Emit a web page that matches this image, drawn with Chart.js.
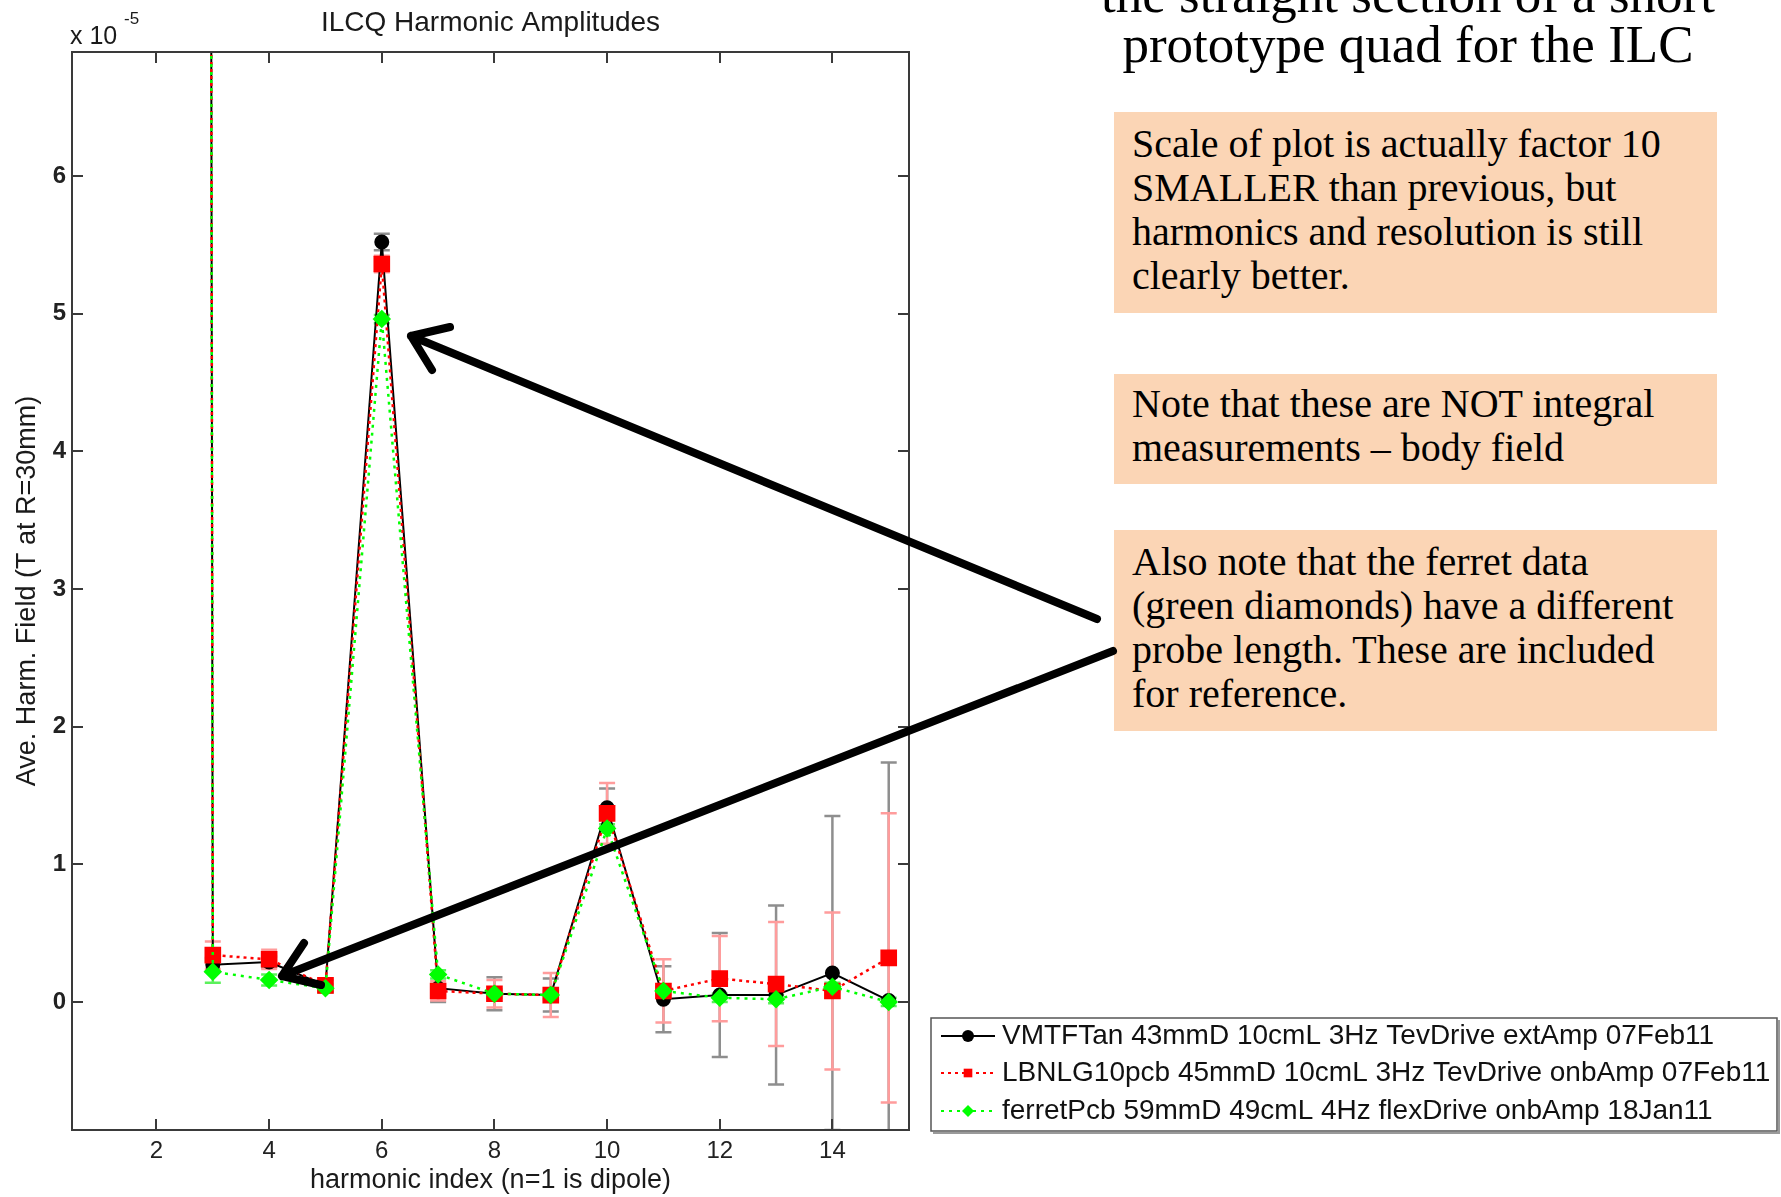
<!DOCTYPE html>
<html>
<head>
<meta charset="utf-8">
<script src="https://cdn.jsdelivr.net/npm/chart.js@4/dist/chart.umd.min.js"></script>
<style>
  body { margin: 0; background: #fff; }
  #page { position: relative; width: 1781px; height: 1197px; overflow: hidden; background: #fff; }
  #chart { position: absolute; left: 0; top: 0; }
  .serif { font-family: "Liberation Serif", "Times New Roman", serif; color: #000; }
  .heading { position: absolute; left: 1008px; top: -31px; width: 800px; text-align: center; font-size: 53px; line-height: 50px; white-space: nowrap; }
  .note { position: absolute; left: 1114px; width: 603px; background: #fbd5b5; font-size: 40px; line-height: 44px; padding-left: 18px; box-sizing: border-box; white-space: nowrap; }
  #arrows { position: absolute; left: 0; top: 0; }
</style>
</head>
<body>
<div id="page">
  <canvas id="chart" width="1781" height="1197"></canvas>
  <div class="heading serif">the straight section of a short<br>prototype quad for the ILC</div>
  <div class="note serif" style="top:112px;height:201px;padding-top:10px">Scale of plot is actually factor 10<br>SMALLER than previous, but<br>harmonics and resolution is still<br>clearly better.</div>
  <div class="note serif" style="top:374px;height:110px;padding-top:8px">Note that these are NOT integral<br>measurements – body field</div>
  <div class="note serif" style="top:530px;height:201px;padding-top:10px">Also note that the ferret data<br>(green diamonds) have a different<br>probe length. These are included<br>for reference.</div>
  <svg id="arrows" width="1781" height="1197">
    <g fill="none" stroke="#000" stroke-width="8" stroke-linecap="round" stroke-linejoin="round">
      <path d="M1097 619 L411 336 M450 327 L411 336 L432 370"/>
      <path d="M1113 651 L282 976 M304 943 L282 976 L321 985"/>
    </g>
  </svg>
</div>
<script>
// harmonic index n; n=2 is the main quadrupole field, far above the axes
const harmonics = [2, 3, 4, 5, 6, 7, 8, 9, 10, 11, 12, 13, 14, 15];

// average harmonic field, units of 1e-5 T at R = 30 mm, with +/- error
const vmtfField   = [1420, 0.27, 0.29, 0.12, 5.52, 0.10, 0.06, 0.05, 1.41, 0.02, 0.05, 0.05, 0.21, 0.01];
const vmtfErr     = [0,    0.05, 0.04, 0.04, 0.06, 0.10, 0.12, 0.12, 0.14, 0.24, 0.45, 0.65, 1.14, 1.73];
const lbnlField   = [1400, 0.34, 0.31, 0.12, 5.36, 0.08, 0.06, 0.05, 1.37, 0.08, 0.17, 0.13, 0.08, 0.32];
const lbnlErr     = [0,    0.10, 0.07, 0.05, 0.06, 0.07, 0.10, 0.16, 0.22, 0.23, 0.31, 0.45, 0.57, 1.05];
const ferretField = [1380, 0.22, 0.16, 0.10, 4.96, 0.20, 0.06, 0.05, 1.26, 0.08, 0.03, 0.02, 0.11, 0.00];
const ferretErr   = [0,    0.08, 0.04, 0.03, 0.03, 0.03, 0.03, 0.03, 0.03, 0.03, 0.03, 0.03, 0.03, 0.03];

const seriesLabels = [
  "VMTFTan 43mmD 10cmL 3Hz TevDrive extAmp 07Feb11",
  "LBNLG10pcb 45mmD 10cmL 3Hz TevDrive onbAmp 07Feb11",
  "ferretPcb 59mmD 49cmL 4Hz flexDrive onbAmp 18Jan11"
];

const xTicks = [2, 4, 6, 8, 10, 12, 14];
const yTicks = [0, 1, 2, 3, 4, 5, 6];

const toPoints = (vals) => harmonics.map((n, i) => ({ x: n, y: vals[i] }));

const sans = "'Liberation Sans', Arial, sans-serif";
const labelFont = { family: sans, size: 27 };

// vertical error bars with caps, under the lines
const errorBars = {
  id: "errorBars",
  beforeDatasetsDraw(chart) {
    const { ctx, chartArea: a, scales: { x, y } } = chart;
    ctx.save();
    ctx.beginPath();
    ctx.rect(a.left, a.top, a.width, a.height);
    ctx.clip();
    ctx.lineWidth = 2.5;
    chart.data.datasets.forEach(ds => {
      ctx.strokeStyle = ds.errorColor;
      ds.data.forEach((p, i) => {
        const e = ds.errors[i];
        if (!e) return;
        const px = x.getPixelForValue(p.x);
        const hi = y.getPixelForValue(p.y + e);
        const lo = y.getPixelForValue(p.y - e);
        ctx.beginPath();
        ctx.moveTo(px, hi); ctx.lineTo(px, lo);
        ctx.moveTo(px - 8, hi); ctx.lineTo(px + 8, hi);
        ctx.moveTo(px - 8, lo); ctx.lineTo(px + 8, lo);
        ctx.stroke();
      });
    });
    ctx.restore();
  }
};

// box round the axes with inward ticks on all four sides
const axesBox = {
  id: "axesBox",
  afterDatasetsDraw(chart) {
    const { ctx, chartArea: a, scales: { x, y } } = chart;
    ctx.save();
    ctx.strokeStyle = "#3a3a3a";
    ctx.lineWidth = 2;
    ctx.strokeRect(a.left, a.top, a.width, a.height);
    ctx.beginPath();
    xTicks.forEach(v => {
      const px = Math.round(x.getPixelForValue(v));
      ctx.moveTo(px, a.bottom); ctx.lineTo(px, a.bottom - 11);
      ctx.moveTo(px, a.top); ctx.lineTo(px, a.top + 11);
    });
    yTicks.forEach(v => {
      const py = Math.round(y.getPixelForValue(v));
      ctx.moveTo(a.left, py); ctx.lineTo(a.left + 11, py);
      ctx.moveTo(a.right, py); ctx.lineTo(a.right - 11, py);
    });
    ctx.stroke();
    ctx.restore();
  }
};

function drawMarker(ctx, style, cx, cy, r) {
  ctx.beginPath();
  if (style === "circle") {
    ctx.arc(cx, cy, r, 0, Math.PI * 2);
  } else if (style === "rect") {
    ctx.rect(cx - r * 0.72, cy - r * 0.72, r * 1.44, r * 1.44);
  } else {
    ctx.moveTo(cx - r, cy); ctx.lineTo(cx, cy - r); ctx.lineTo(cx + r, cy); ctx.lineTo(cx, cy + r);
    ctx.closePath();
  }
  ctx.fill();
}

// title, exponent note and the legend box outside the axes
const decorations = {
  id: "decorations",
  afterDraw(chart) {
    const { ctx, chartArea: a } = chart;
    ctx.save();
    ctx.fillStyle = "#1a1a1a";
    ctx.font = `28px ${sans}`;
    ctx.textAlign = "center";
    ctx.textBaseline = "middle";
    ctx.fillText("ILCQ Harmonic Amplitudes", (a.left + a.right) / 2, 23);

    ctx.textAlign = "left";
    ctx.textBaseline = "alphabetic";
    ctx.font = `25px ${sans}`;
    ctx.fillText("x 10", 70, 44);
    ctx.font = `17px ${sans}`;
    ctx.fillText("-5", 124, 24);

    // legend
    const box = { left: 931, top: 1018, width: 846, height: 113 };
    ctx.fillStyle = "#fff";
    ctx.fillRect(box.left, box.top, box.width, box.height);
    ctx.strokeStyle = "#9a9a9a";
    ctx.lineWidth = 2;
    ctx.beginPath();
    ctx.moveTo(box.left + 2, box.top + box.height + 2);
    ctx.lineTo(box.left + box.width + 2, box.top + box.height + 2);
    ctx.lineTo(box.left + box.width + 2, box.top + 2);
    ctx.stroke();
    ctx.strokeStyle = "#555";
    ctx.lineWidth = 1.5;
    ctx.strokeRect(box.left, box.top, box.width, box.height);

    const rows = [1036, 1073, 1111];
    chart.data.datasets.forEach((ds, i) => {
      const yy = rows[i];
      ctx.strokeStyle = ds.borderColor;
      ctx.fillStyle = ds.backgroundColor;
      ctx.lineWidth = 2;
      ctx.setLineDash(ds.borderDash || []);
      ctx.beginPath();
      ctx.moveTo(941, yy); ctx.lineTo(995, yy);
      ctx.stroke();
      ctx.setLineDash([]);
      drawMarker(ctx, ds.pointStyle, 968, yy, 6);
      ctx.fillStyle = "#111";
      ctx.font = `28px ${sans}`;
      ctx.textBaseline = "middle";
      ctx.fillText(ds.label, 1002, yy);
    });
    ctx.restore();
  }
};

new Chart(document.getElementById("chart"), {
  type: "line",
  data: {
    datasets: [
      {
        label: seriesLabels[0],
        data: toPoints(vmtfField),
        errors: vmtfErr,
        errorColor: "#8e8e8e",
        borderColor: "#000",
        backgroundColor: "#000",
        borderWidth: 2,
        pointStyle: "circle",
        pointRadius: 6.5,
        order: 2
      },
      {
        label: seriesLabels[1],
        data: toPoints(lbnlField),
        errors: lbnlErr,
        errorColor: "#ff9c9c",
        borderColor: "#ff0000",
        backgroundColor: "#ff0000",
        borderWidth: 2.5,
        borderDash: [3, 4],
        pointStyle: "rect",
        pointRadius: 10,
        order: 1
      },
      {
        label: seriesLabels[2],
        data: toPoints(ferretField),
        errors: ferretErr,
        errorColor: "#5cf05c",
        borderColor: "#00ff00",
        backgroundColor: "#00ff00",
        borderWidth: 2.5,
        borderDash: [3, 5],
        pointStyle: "rectRot",
        pointRadius: 7.5,
        order: 0
      }
    ]
  },
  options: {
    responsive: false,
    animation: false,
    events: [],
    layout: { padding: { left: 0, top: 52, right: 872, bottom: 0 } },
    elements: { line: { tension: 0 }, point: { borderWidth: 1 } },
    plugins: { legend: { display: false }, tooltip: { enabled: false }, title: { display: false } },
    scales: {
      x: {
        type: "linear",
        min: 0.5,
        max: 15.36,
        grid: { display: false, drawTicks: false },
        border: { display: false },
        ticks: {
          stepSize: 2,
          includeBounds: false,
          autoSkip: false,
          maxRotation: 0,
          padding: 7,
          color: "#222",
          font: { family: sans, size: 24 },
          callback: v => (xTicks.includes(v) ? String(v) : "")
        },
        title: {
          display: true,
          text: "harmonic index (n=1 is dipole)",
          color: "#1a1a1a",
          font: labelFont,
          padding: { top: 0, bottom: 0 }
        },
        afterFit(scale) { scale.height = 67; }
      },
      y: {
        type: "linear",
        min: -0.93,
        max: 6.9,
        grid: { display: false, drawTicks: false },
        border: { display: false },
        ticks: {
          stepSize: 1,
          includeBounds: false,
          autoSkip: false,
          padding: 6,
          color: "#222",
          font: { family: sans, size: 24, weight: "bold" },
          callback: v => (yTicks.includes(v) ? String(v) : "")
        },
        title: {
          display: true,
          text: "Ave. Harm. Field (T at R=30mm)",
          color: "#1a1a1a",
          font: labelFont,
          padding: { top: 11, bottom: 0 }
        },
        afterFit(scale) { scale.width = 72; }
      }
    }
  },
  plugins: [errorBars, axesBox, decorations]
});
</script>
</body>
</html>
